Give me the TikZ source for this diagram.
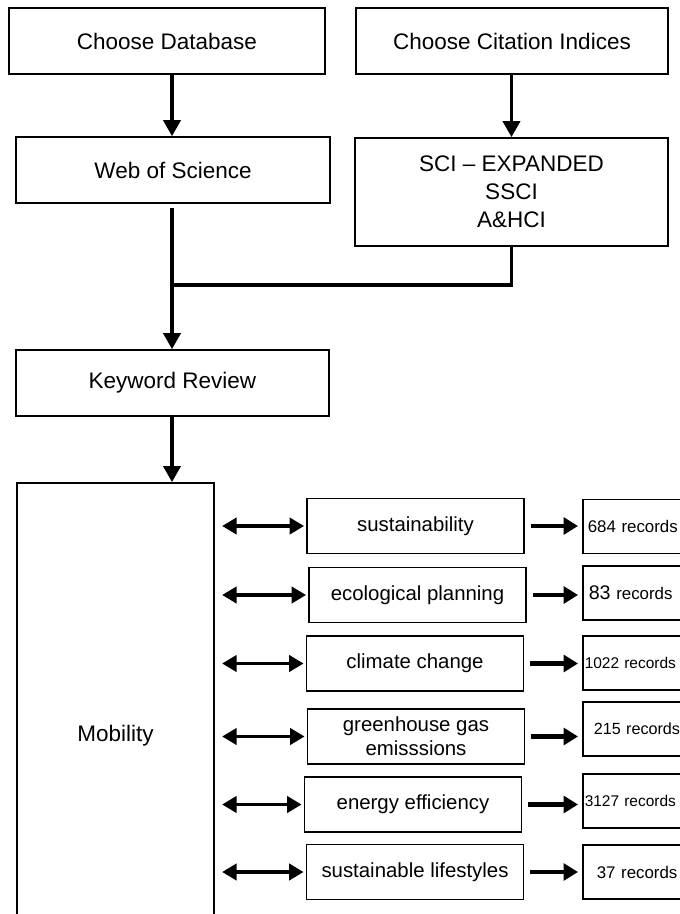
\documentclass[tikz,border=0pt]{standalone}
\usepackage{fontspec}
\setmainfont{Liberation Sans}
\usetikzlibrary{arrows.meta, positioning}

\begin{document}
\begin{tikzpicture}[
    x=0.025cm, y=-0.025cm,
    process/.style={rectangle, draw, line width=1.1pt, inner sep=0pt,
        minimum width=7.83cm, minimum height=1.65cm, align=center,
        font=\fontsize{16}{19.8}\selectfont},
    keyword/.style={rectangle, draw, line width=1.1pt, inner sep=0pt,
        minimum width=5.43cm, minimum height=1.37cm, align=center,
        font=\fontsize{14.5}{17}\selectfont},
    records/.style={rectangle, draw, line width=1.1pt, inner ysep=0pt,
        minimum height=1.35cm, text width=2.4cm, align=left, anchor=west,
        font=\fontsize{12}{14}\selectfont},
    flow/.style={draw, line width=2.8pt, -{Triangle[length=0.4cm, width=0.42cm]}},
    link/.style={draw, line width=2.8pt},
    both/.style={draw, line width=2.8pt,
        {Triangle[length=0.36cm, width=0.4cm]}-{Triangle[length=0.36cm, width=0.4cm]},
        shorten <=0.18cm, shorten >=0.05cm},
    toright/.style={draw, line width=3pt, -{Triangle[length=0.36cm, width=0.42cm]},
        shorten <=0.15cm, shorten >=0.1cm}
]
\useasboundingbox (0,0) rectangle (679,914);

% upper chain
\node (ChooseDB) [process, minimum width=7.9cm] at (167,41) {Choose Database};
\node (ChooseCI) [process, minimum width=7.8cm] at (512,41) {Choose Citation Indices};
\node (WoS) [process, minimum width=7.85cm] at (173,170) {Web of Science};
\node (Indices) [process, minimum height=2.7cm] at (511.5,192)
    {SCI -- EXPANDED\\SSCI\\A\&HCI};
\node (Keyword) [process] at (172.5,383) {Keyword Review};
\node (Mobility) [process, minimum width=4.93cm, minimum height=12.65cm]
    at (115.5,736) {Mobility};
\coordinate (Join) at (172,285);

\draw[flow] (ChooseDB.south -| Join) -- (WoS.north -| Join);
\draw[flow] (ChooseCI.south -| Indices.north) -- (Indices.north);
\draw[link] (Indices.south) |- (Join);
\draw[flow] ([yshift=-0.1cm]WoS.south -| Join) -- (Keyword.north -| Join);
\draw[flow] (Keyword.south -| Join) -- (Mobility.north -| Join);

% keywords
\node (Sustain) [keyword] at (415.5,526) {sustainability};
\node (Ecol) [keyword] at (417.5,595) {ecological planning};
\node (Climate) [keyword] at (415,663.5) {climate change};
\node (Ghg) [keyword] at (416,736.5) {greenhouse gas\\emisssions};
\node (Energy) [keyword] at (413,804.5) {energy efficiency};
\node (Life) [keyword] at (415,872) {sustainable lifestyles};

% results
\node (Rec1) [records, inner xsep=0.125cm] at (582,526.5) {684 records};
\node (Rec2) [records, inner xsep=0.15cm] at (582,593)
    {{\fontsize{14}{16}\selectfont 83} records};
\node (Rec3) [records, inner xsep=0.05cm, font=\fontsize{11}{13}\selectfont]
    at (582,663) {1022 records};
\node (Rec4) [records, inner xsep=0.275cm, font=\fontsize{11.5}{13}\selectfont]
    at (582,729) {215 records};
\node (Rec5) [records, inner xsep=0.05cm, font=\fontsize{11}{13}\selectfont]
    at (582,801) {3127 records};
\node (Rec6) [records, inner xsep=0.35cm] at (582,872) {37 records};

\foreach \kw/\rec in {Sustain/Rec1, Ecol/Rec2, Climate/Rec3, Ghg/Rec4, Energy/Rec5, Life/Rec6} {
  \draw[both] (Mobility.east |- \kw.west) -- (\kw.west);
  \draw[toright] (\kw.east) -- (\kw.east -| \rec.west);
}

\end{tikzpicture}
\end{document}
